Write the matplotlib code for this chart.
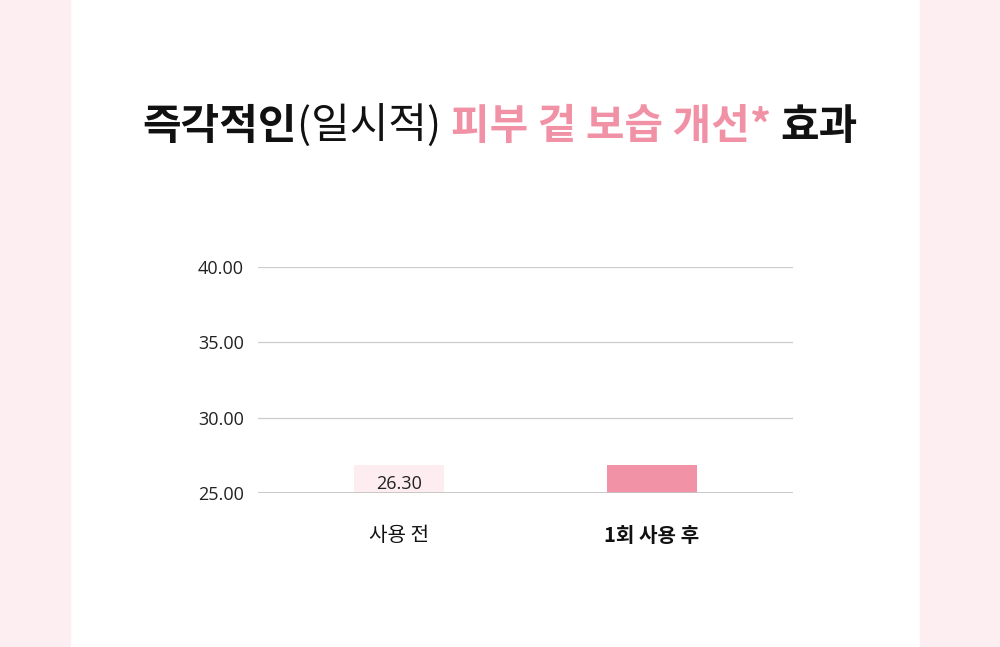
import matplotlib
matplotlib.use('Agg')
import matplotlib.pyplot as plt
from matplotlib.patches import Rectangle

plt.rcParams['font.family'] = ['Noto Sans CJK KR', 'DejaVu Sans']

categories = ['사용 전', '1회 사용 후']
values = [26.85, 26.85]          # bar heights as drawn
value_labels = ['26.30', '']
yticks = [25, 30, 35, 40]
title_parts = [('즉각적인', 'bold', '#111111'),
               ('(일시적) ', 'light', '#111111'),
               ('피부 겉 보습 개선* ', 'bold', '#f191a5'),
               ('효과', 'bold', '#111111')]

pink = '#f192a6'
light = '#fdecf0'
num_font = ['Open Sans', 'DejaVu Sans']

fig = plt.figure(figsize=(10, 6.47), dpi=100)
fig.patch.set_facecolor('white')
# side strips
fig.add_artist(Rectangle((0, 0), 0.07, 1, transform=fig.transFigure, color='#fdeef2', zorder=0))
fig.add_artist(Rectangle((0.92, 0), 0.08, 1, transform=fig.transFigure, color='#fdeef2', zorder=0))

ax = fig.add_axes([0.258, 0.238, 0.535, 0.3493])
x = range(len(categories))
ax.bar(x, [v - 25 for v in values], bottom=25, width=0.356,
       color=[light, pink], zorder=2)
ax.set_xlim(-0.5575, 1.5575)
ax.set_ylim(25, 40)
ax.set_yticks(yticks)
ax.set_yticklabels(['%.2f' % t for t in yticks], fontsize=13, color='#222222', family=num_font)
ax.set_xticks(list(x))
ax.set_xticklabels(categories, fontsize=14.5, color='#111111')
ax.get_xticklabels()[1].set_fontweight('bold')
ax.tick_params(axis='y', length=0, pad=10)
ax.tick_params(axis='x', length=0, pad=23)
for s in ax.spines.values():
    s.set_visible(False)
for t in yticks[1:]:
    ax.axhline(t, color='#cccccc', lw=0.9, zorder=1)
ax.axhline(25, color='#c4c4c4', lw=2, zorder=3)

for i, lab in enumerate(value_labels):
    if lab:
        ax.text(i, 25.6, lab, ha='center', va='center', fontsize=13,
                color='#222222', family=num_font, zorder=4)

# mixed-style title, measured piece by piece
fig.canvas.draw()
r = fig.canvas.get_renderer()
pieces = []
total = 0
for txt, w, c in title_parts:
    t = fig.text(0, 0.804, txt, fontsize=30.2, fontweight=w, color=c, va='center', ha='left')
    wpx = t.get_window_extent(r).width
    pieces.append((t, wpx))
    total += wpx
xpos = 500 - total / 2
for t, wpx in pieces:
    t.set_x(xpos / 1000)
    xpos += wpx

fig.savefig('out.png', dpi=100)
